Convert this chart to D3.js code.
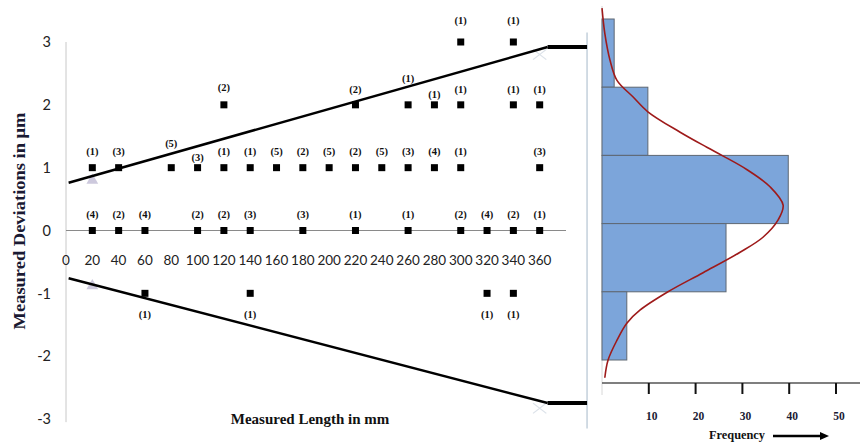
<!DOCTYPE html>
<html>
<head>
<meta charset="utf-8">
<script src="https://cdn.jsdelivr.net/npm/d3@7"></script>
<style>
  html, body { margin: 0; padding: 0; background: #fff; }
  svg { display: block; }
</style>
</head>
<body>
<svg id="chart" width="861" height="444"></svg>
<script>
// ---------- DATA ----------
// Scatter: measured length (mm), deviation (µm), count of occurrences
const devX = [300, 340,
  120, 220, 260, 280, 300, 340, 360,
  20, 40, 80, 100, 120, 140, 160, 180, 200, 220, 240, 260, 280, 300, 360,
  20, 40, 60, 100, 120, 140, 180, 220, 260, 300, 320, 340, 360,
  60, 140, 320, 340];
const devY = [3, 3,
  2, 2, 2, 2, 2, 2, 2,
  1, 1, 1, 1, 1, 1, 1, 1, 1, 1, 1, 1, 1, 1, 1,
  0, 0, 0, 0, 0, 0, 0, 0, 0, 0, 0, 0, 0,
  -1, -1, -1, -1];
const devCount = [1, 1,
  2, 2, 1, 1, 1, 1, 1,
  1, 3, 5, 3, 1, 1, 5, 2, 5, 2, 5, 3, 4, 1, 3,
  4, 2, 4, 2, 2, 3, 3, 1, 1, 2, 4, 2, 1,
  1, 1, 1, 1];

// Limit lines (length mm, deviation µm)
const upperLimitX = [2, 366];
const upperLimitY = [0.76, 2.92];
const lowerLimitX = [2, 366];
const lowerLimitY = [-0.76, -2.745];
const limitEndX = [366, 396];
// faint limit markers
const triMarkX = [20, 20];
const triMarkY = [0.8, -0.88];
const crossMarkX = [360, 360];
const crossMarkY = [2.8, -2.83];

const xTicks = [0, 20, 40, 60, 80, 100, 120, 140, 160, 180, 200, 220, 240, 260, 280, 300, 320, 340, 360];
const yTicks = [3, 2, 1, 0, -1, -2, -3];

// Histogram of deviations
const histBins = [3, 2, 1, 0, -1];
const histFreq = [2.6, 9.8, 39.8, 26.5, 5.3];
const freqTicks = [10, 20, 30, 40, 50];
// Fitted normal curve
const curveDev = [3.66, 3.29, 2.9, 2.6, 2.36, 2.14, 1.84, 1.62, 1.49, 1.29, 1.04, 0.77, 0.55, 0.30, 0.08, -0.22, -0.50, -0.77, -0.96, -1.21, -1.5, -1.76];
const curveFreq = [0, 0.6, 1.7, 3.2, 6.6, 9.8, 16.7, 22.4, 25.9, 31, 35.9, 38.7, 37.6, 34.4, 29.5, 21.6, 14.1, 8.1, 5.3, 3.2, 1.3, 0.6];

// ---------- DRAW ----------
const svg = d3.select("#chart");
const xL = d3.scaleLinear().domain([0, 380]).range([66, 566]);
const yL = d3.scaleLinear().domain([-3, 3]).range([419, 42]);

const serif = "'Liberation Serif', 'Times New Roman', serif";
const sans = "Lato, 'Noto Sans', sans-serif";

// y axis line
svg.append("line")
  .attr("x1", xL(0)).attr("x2", xL(0))
  .attr("y1", yL(3)).attr("y2", yL(-3.05))
  .attr("stroke", "#c8c8c8").attr("stroke-width", 1);

// right border line
svg.append("line")
  .attr("x1", xL(396)).attr("x2", xL(396))
  .attr("y1", yL(3.15)).attr("y2", yL(-3.15))
  .attr("stroke", "#c3d0db").attr("stroke-width", 1.5);

// x axis (through zero)
svg.append("line")
  .attr("x1", xL(0)).attr("x2", xL(380))
  .attr("y1", yL(0)).attr("y2", yL(0))
  .attr("stroke", "#8a8a8a").attr("stroke-width", 1);

// y tick labels
svg.append("g").selectAll("text").data(yTicks).join("text")
  .attr("x", 51).attr("y", d => yL(d))
  .attr("dy", "0.36em")
  .attr("text-anchor", "end")
  .attr("font-family", sans).attr("font-size", 14.5)
  .attr("fill", "#222")
  .text(d => d);

// x tick labels
svg.append("g").selectAll("text").data(xTicks).join("text")
  .attr("x", d => xL(d)).attr("y", 265)
  .attr("text-anchor", "middle")
  .attr("font-family", sans).attr("font-size", 13.5)
  .attr("fill", "#222")
  .text(d => d);

// faint limit markers
const tri = d3.symbol().type(d3.symbolTriangle).size(60);
svg.append("g").selectAll("path").data(triMarkX.map((x, i) => [x, triMarkY[i]])).join("path")
  .attr("d", tri)
  .attr("transform", d => `translate(${xL(d[0])},${yL(d[1])})`)
  .attr("fill", "#cdc9dd");
svg.append("g").selectAll("path").data(crossMarkX.map((x, i) => [x, crossMarkY[i]])).join("path")
  .attr("d", d3.symbol().type(d3.symbolX).size(70))
  .attr("transform", d => `translate(${xL(d[0])},${yL(d[1])}) scale(1.3,1)`)
  .attr("fill", "none").attr("stroke", "#dde3ea").attr("stroke-width", 1);

// limit lines
const lineGen = d3.line().x(d => xL(d[0])).y(d => yL(d[1]));
[[upperLimitX, upperLimitY], [lowerLimitX, lowerLimitY]].forEach(([xs, ys]) => {
  svg.append("path")
    .attr("d", lineGen(xs.map((x, i) => [x, ys[i]])))
    .attr("fill", "none").attr("stroke", "#000").attr("stroke-width", 2.5);
  const endY = ys[ys.length - 1];
  svg.append("path")
    .attr("d", lineGen(limitEndX.map(x => [x, endY])))
    .attr("fill", "none").attr("stroke", "#000").attr("stroke-width", 4);
});

// points
const pts = devX.map((x, i) => ({ x, y: devY[i], n: devCount[i] }));
svg.append("g").selectAll("rect").data(pts).join("rect")
  .attr("x", d => xL(d.x) - 3.5).attr("y", d => yL(d.y) - 3.5)
  .attr("width", 7).attr("height", 7)
  .attr("fill", "#000");

// label nudges (layout only)
const nudge = { "80,1": -24, "100,1": -10, "260,2": -27, "120,2": -18, "280,2": -11 };
function labelDy(d) {
  const k = d.x + "," + d.y;
  if (k in nudge) return nudge[k];
  if (d.y < 0) return 21;
  if (d.y === 3) return -22;
  return -16;
}
svg.append("g").selectAll("text").data(pts).join("text")
  .attr("x", d => xL(d.x)).attr("y", d => yL(d.y) + labelDy(d))
  .attr("dy", "0.35em")
  .attr("text-anchor", "middle")
  .attr("font-family", serif).attr("font-weight", "bold").attr("font-size", 10.5)
  .attr("fill", "#111")
  .text(d => `(${d.n})`);

// axis titles
svg.append("text")
  .attr("transform", `translate(25,221) rotate(-90)`)
  .attr("text-anchor", "middle")
  .attr("font-family", serif).attr("font-weight", "bold").attr("font-size", 17)
  .attr("textLength", 217).attr("lengthAdjust", "spacingAndGlyphs")
  .attr("fill", "#1a1a33")
  .text("Measured Deviations in μm");

svg.append("text")
  .attr("x", 310).attr("y", 424)
  .attr("text-anchor", "middle")
  .attr("font-family", serif).attr("font-weight", "bold").attr("font-size", 15)
  .attr("fill", "#111")
  .text("Measured Length in mm");

// ---------- HISTOGRAM ----------
const xH = d3.scaleLinear().domain([0, 50]).range([602, 836]);
const yH = d3.scaleLinear().domain([-1.5, 3.5]).range([360, 19]);

// faint vertical axis
svg.append("line")
  .attr("x1", xH(0)).attr("x2", xH(0))
  .attr("y1", 6).attr("y2", 395)
  .attr("stroke", "#d8d8d8").attr("stroke-width", 1);

svg.append("g").selectAll("rect").data(histBins.map((b, i) => ({ b, f: histFreq[i] }))).join("rect")
  .attr("x", xH(0))
  .attr("y", d => yH(d.b + 0.5))
  .attr("width", d => xH(d.f) - xH(0))
  .attr("height", d => yH(d.b - 0.5) - yH(d.b + 0.5))
  .attr("fill", "#7ca5da")
  .attr("stroke", "#5f6873").attr("stroke-width", 1);

// normal curve
svg.append("path")
  .attr("d", d3.line().curve(d3.curveCatmullRom)
    .x(d => xH(d[1])).y(d => yH(d[0]))(curveDev.map((v, i) => [v, curveFreq[i]])))
  .attr("fill", "none").attr("stroke", "#9e1a1a").attr("stroke-width", 1.6);

// frequency axis
const axisY = 383;
svg.append("line")
  .attr("x1", xH(0)).attr("x2", 860)
  .attr("y1", axisY).attr("y2", axisY)
  .attr("stroke", "#555").attr("stroke-width", 1.5);
svg.append("g").selectAll("line").data(freqTicks).join("line")
  .attr("x1", d => xH(d)).attr("x2", d => xH(d))
  .attr("y1", axisY).attr("y2", axisY + 11)
  .attr("stroke", "#111").attr("stroke-width", 2);
svg.append("g").selectAll("text").data(freqTicks).join("text")
  .attr("x", d => xH(d) + 3).attr("y", 420)
  .attr("text-anchor", "middle")
  .attr("font-family", serif).attr("font-weight", "bold").attr("font-size", 11.5)
  .attr("fill", "#1a1a33")
  .text(d => d);

svg.append("text")
  .attr("x", 709).attr("y", 439)
  .attr("text-anchor", "start")
  .attr("font-family", serif).attr("font-weight", "bold").attr("font-size", 12.5)
  .attr("textLength", 56).attr("lengthAdjust", "spacingAndGlyphs")
  .attr("fill", "#111")
  .text("Frequency");

// arrow
svg.append("line")
  .attr("x1", 773).attr("x2", 822).attr("y1", 436).attr("y2", 436)
  .attr("stroke", "#000").attr("stroke-width", 2.5);
svg.append("path")
  .attr("d", "M820,432 L829,436 L820,440 Z")
  .attr("fill", "#000");
</script>
</body>
</html>
